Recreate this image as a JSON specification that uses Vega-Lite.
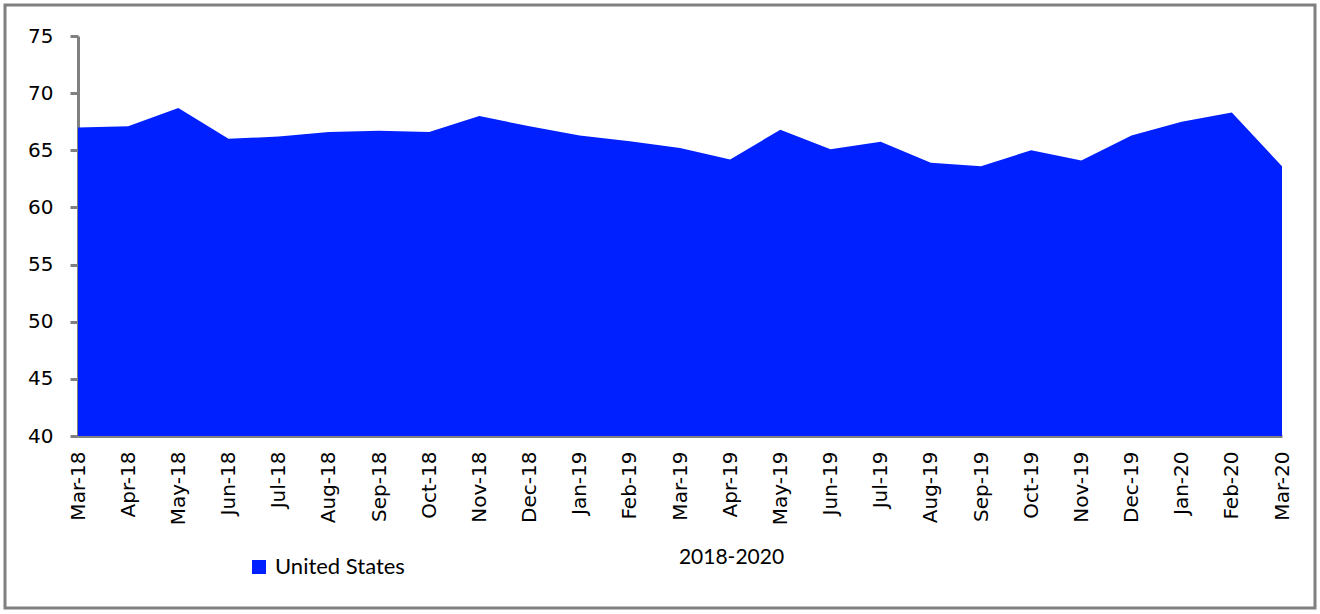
{
  "$schema": "https://vega.github.io/schema/vega-lite/v6.json",
  "width": 1310,
  "height": 603,
  "autosize": {"type": "none"},
  "padding": {"left": 5, "top": 5, "right": 5, "bottom": 6},
  "background": "white",
  "config": {
    "view": {"stroke": "#808080", "strokeWidth": 3, "fill": "white"}
  },
  "data": {
    "values": [
      {"month": "Mar-18", "value": 67.0, "country": "United States"},
      {"month": "Apr-18", "value": 67.1, "country": "United States"},
      {"month": "May-18", "value": 68.7, "country": "United States"},
      {"month": "Jun-18", "value": 66.0, "country": "United States"},
      {"month": "Jul-18", "value": 66.2, "country": "United States"},
      {"month": "Aug-18", "value": 66.6, "country": "United States"},
      {"month": "Sep-18", "value": 66.7, "country": "United States"},
      {"month": "Oct-18", "value": 66.6, "country": "United States"},
      {"month": "Nov-18", "value": 68.0, "country": "United States"},
      {"month": "Dec-18", "value": 67.1, "country": "United States"},
      {"month": "Jan-19", "value": 66.3, "country": "United States"},
      {"month": "Feb-19", "value": 65.8, "country": "United States"},
      {"month": "Mar-19", "value": 65.2, "country": "United States"},
      {"month": "Apr-19", "value": 64.2, "country": "United States"},
      {"month": "May-19", "value": 66.8, "country": "United States"},
      {"month": "Jun-19", "value": 65.1, "country": "United States"},
      {"month": "Jul-19", "value": 65.75, "country": "United States"},
      {"month": "Aug-19", "value": 63.9, "country": "United States"},
      {"month": "Sep-19", "value": 63.6, "country": "United States"},
      {"month": "Oct-19", "value": 65.0, "country": "United States"},
      {"month": "Nov-19", "value": 64.1, "country": "United States"},
      {"month": "Dec-19", "value": 66.3, "country": "United States"},
      {"month": "Jan-20", "value": 67.5, "country": "United States"},
      {"month": "Feb-20", "value": 68.3, "country": "United States"},
      {"month": "Mar-20", "value": 63.6, "country": "United States"}
    ]
  },
  "mark": {"type": "area", "opacity": 1},
  "encoding": {
    "x": {
      "field": "month",
      "type": "ordinal",
      "sort": null,
      "scale": {"type": "point", "range": [73, 1277], "padding": 0},
      "axis": {
        "offset": -172,
        "ticks": false,
        "domainColor": "#808080",
        "domainWidth": 3,
        "labelAngle": -90,
        "labelAlign": "right",
        "labelBaseline": "middle",
        "labelFont": "DejaVu Sans",
        "labelFontSize": 20,
        "labelColor": "black",
        "labelPadding": 15,
        "labelOverlap": false,
        "grid": false,
        "title": "2018-2020",
        "titleFont": "Lato",
        "titleFontSize": 21,
        "titleFontWeight": "normal",
        "titleColor": "black",
        "titleX": 726,
        "titleY": 121,
        "titleAlign": "center",
        "titleBaseline": "middle"
      }
    },
    "y": {
      "field": "value",
      "type": "quantitative",
      "scale": {"domain": [40, 75], "range": [431, 31], "zero": false, "nice": false},
      "axis": {
        "offset": -73,
        "values": [40, 45, 50, 55, 60, 65, 70, 75],
        "domainColor": "#808080",
        "domainWidth": 3,
        "tickColor": "#808080",
        "tickWidth": 3,
        "tickSize": 8,
        "labelFont": "DejaVu Sans",
        "labelFontSize": 20,
        "labelColor": "black",
        "labelPadding": 17,
        "grid": false,
        "title": null
      }
    },
    "y2": {"datum": 40},
    "color": {
      "field": "country",
      "type": "nominal",
      "scale": {"range": ["#0020FF"]},
      "legend": {
        "orient": "none",
        "legendX": 243,
        "legendY": 551,
        "title": null,
        "padding": 0,
        "symbolType": "square",
        "symbolSize": 196,
        "symbolStrokeWidth": 0,
        "symbolOpacity": 1,
        "labelFont": "Lato",
        "labelFontSize": 22,
        "labelColor": "black",
        "labelOffset": 5
      }
    }
  }
}
